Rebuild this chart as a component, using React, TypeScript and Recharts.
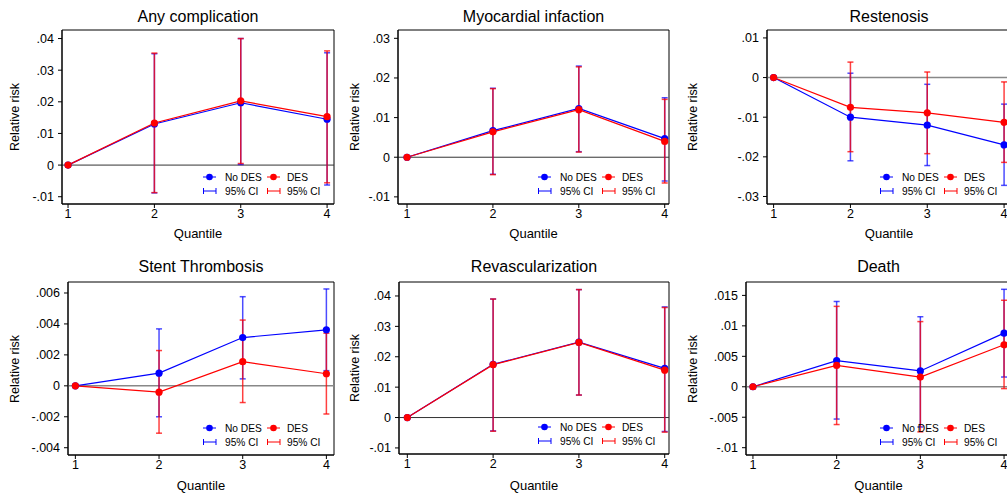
import React from "react";
import {
  LineChart, Line, XAxis, YAxis, ErrorBar, ReferenceLine, ReferenceArea
} from "recharts";

const quantiles = [1, 2, 3, 4];

// Any complication
const anyNoDes = [0, 0.013, 0.0197, 0.0145];
const anyNoDesLo = [null, -0.0088, 0.0002, -0.0063];
const anyNoDesHi = [null, 0.0352, 0.04, 0.0355];
const anyDes = [0, 0.0133, 0.0203, 0.0153];
const anyDesLo = [null, -0.0087, 0.0005, -0.0056];
const anyDesHi = [null, 0.0354, 0.04, 0.0361];

// Myocardial infaction
const miNoDes = [0, 0.0067, 0.0123, 0.0047];
const miNoDesLo = [null, -0.0043, 0.0014, -0.006];
const miNoDesHi = [null, 0.0174, 0.023, 0.015];
const miDes = [0, 0.0064, 0.012, 0.004];
const miDesLo = [null, -0.0044, 0.0013, -0.0065];
const miDesHi = [null, 0.0173, 0.0228, 0.0146];

// Restenosis
const reNoDes = [0, -0.01, -0.012, -0.017];
const reNoDesLo = [null, -0.021, -0.0222, -0.0272];
const reNoDesHi = [null, 0.0011, -0.0017, -0.0067];
const reDes = [0, -0.0075, -0.0089, -0.0113];
const reDesLo = [null, -0.0187, -0.0192, -0.0214];
const reDesHi = [null, 0.0039, 0.0014, -0.0011];

// Stent Thrombosis
const stNoDes = [0, 0.00082, 0.00312, 0.00362];
const stNoDesLo = [null, -0.002, 0.00045, 0.00098];
const stNoDesHi = [null, 0.00368, 0.00576, 0.00626];
const stDes = [0, -0.00041, 0.00156, 0.00078];
const stDesLo = [null, -0.00306, -0.00108, -0.00182];
const stDesHi = [null, 0.00228, 0.00425, 0.0034];

// Revascularization
const rvNoDes = [0, 0.0175, 0.0248, 0.0162];
const rvNoDesLo = [null, -0.0044, 0.0074, -0.0046];
const rvNoDesHi = [null, 0.039, 0.0421, 0.0364];
const rvDes = [0, 0.0174, 0.0247, 0.0156];
const rvDesLo = [null, -0.0045, 0.0074, -0.0048];
const rvDesHi = [null, 0.039, 0.0421, 0.0362];

// Death
const dNoDes = [0, 0.0043, 0.0026, 0.0088];
const dNoDesLo = [null, -0.0053, -0.0066, 0.0016];
const dNoDesHi = [null, 0.014, 0.0115, 0.016];
const dDes = [0, 0.0035, 0.0016, 0.0069];
const dDesLo = [null, -0.0062, -0.0074, -0.0003];
const dDesHi = [null, 0.0132, 0.0107, 0.0142];

const anyTicks = [-0.01, 0, 0.01, 0.02, 0.03, 0.04];
const miTicks = [-0.01, 0, 0.01, 0.02, 0.03];
const reTicks = [-0.03, -0.02, -0.01, 0, 0.01];
const stTicks = [-0.004, -0.002, 0, 0.002, 0.004, 0.006];
const rvTicks = [-0.01, 0, 0.01, 0.02, 0.03, 0.04];
const dTicks = [-0.01, -0.005, 0, 0.005, 0.01, 0.015];

type Num = number | null;

function buildRows(nd: number[], ndLo: Num[], ndHi: Num[], d: number[], dLo: Num[], dHi: Num[]) {
  return quantiles.map((q, i) => ({
    q,
    noDes: nd[i],
    noDesErr: ndLo[i] == null ? null : [nd[i] - (ndLo[i] as number), (ndHi[i] as number) - nd[i]],
    des: d[i],
    desErr: dLo[i] == null ? null : [d[i] - (dLo[i] as number), (dHi[i] as number) - d[i]],
  }));
}

const panels = [
  {
    title: "Any complication",
    rows: buildRows(anyNoDes, anyNoDesLo, anyNoDesHi, anyDes, anyDesLo, anyDesHi),
    yTicks: anyTicks,
    frame: { l: 62, t: 30, r: 334, b: 204 },
    xDom: [0.93, 4.08], yDom: [-0.0123, 0.0427],
    labelX: 15, titleY: 17, qY: 233, zero: "#333", zeroW: 1,
  },
  {
    title: "Myocardial infaction",
    rows: buildRows(miNoDes, miNoDesLo, miNoDesHi, miDes, miDesLo, miDesHi),
    yTicks: miTicks,
    frame: { l: 398, t: 30, r: 669, b: 204 },
    xDom: [0.895, 4.05], yDom: [-0.0118, 0.0321],
    labelX: 355, titleY: 17, qY: 233, zero: "#333", zeroW: 1,
  },
  {
    title: "Restenosis",
    rows: buildRows(reNoDes, reNoDesLo, reNoDesHi, reDes, reDesLo, reDesHi),
    yTicks: reTicks,
    frame: { l: 767, t: 30, r: 1011, b: 204 },
    xDom: [0.914, 4.09], yDom: [-0.0319, 0.012],
    labelX: 693, titleY: 17, qY: 233, zero: "#888", zeroW: 1.5,
  },
  {
    title: "Stent Thrombosis",
    rows: buildRows(stNoDes, stNoDesLo, stNoDesHi, stDes, stDesLo, stDesHi),
    yTicks: stTicks,
    frame: { l: 68, t: 282, r: 334, b: 455 },
    xDom: [0.912, 4.091], yDom: [-0.00447, 0.00671],
    labelX: 15, titleY: 267, qY: 485, zero: "#888", zeroW: 1.5,
  },
  {
    title: "Revascularization",
    rows: buildRows(rvNoDes, rvNoDesLo, rvNoDesHi, rvDes, rvDesLo, rvDesHi),
    yTicks: rvTicks,
    frame: { l: 399, t: 282, r: 669, b: 454 },
    xDom: [0.903, 4.05], yDom: [-0.012, 0.0446],
    labelX: 355, titleY: 267, qY: 485, zero: "#333", zeroW: 1,
  },
  {
    title: "Death",
    rows: buildRows(dNoDes, dNoDesLo, dNoDesHi, dDes, dDesLo, dDesHi),
    yTicks: dTicks,
    frame: { l: 746, t: 282, r: 1011, b: 455 },
    xDom: [0.917, 4.083], yDom: [-0.0112, 0.0172],
    labelX: 693, titleY: 267, qY: 485, zero: "#888", zeroW: 1.5,
  },
];

const BLUE = "#0000ff";
const RED = "#ff0000";
const FONT = "'Liberation Sans', Arial, sans-serif";

function fmt(v: number) {
  const s = Number(v.toFixed(4)).toString();
  return s.replace(/^(-?)0\./, "$1.");
}

function Label({ x, y, size, rotate, children }: any) {
  return (
    <div
      style={{
        position: "absolute", left: x, top: y, fontSize: size, lineHeight: 1,
        whiteSpace: "nowrap", color: "#000",
        transform: `translate(-50%, -50%)${rotate ? " rotate(-90deg)" : ""}`,
      }}
    >
      {children}
    </div>
  );
}

function Legend({ right, bottom }: { right: number; bottom: number }) {
  const txt = { fontSize: 10.2, fill: "#000" };
  return (
    <svg
      width={130} height={30}
      style={{ position: "absolute", left: right - 131, top: bottom - 34 }}
    >
      <line x1={0} y1={7} x2={13} y2={7} stroke={BLUE} />
      <circle cx={6.5} cy={7} r={3.3} fill={BLUE} />
      <text x={22} y={10.7} {...txt}>No DES</text>
      <line x1={64} y1={7} x2={77} y2={7} stroke={RED} />
      <circle cx={70.5} cy={7} r={3.3} fill={RED} />
      <text x={84} y={10.7} {...txt}>DES</text>
      <path d="M0.5 18 V24 M0.5 21 H13 M13 18 V24" stroke={BLUE} fill="none" />
      <text x={22} y={24.7} {...txt}>95% CI</text>
      <path d="M64.5 18 V24 M64.5 21 H77 M77 18 V24" stroke={RED} fill="none" />
      <text x={84} y={24.7} {...txt}>95% CI</text>
    </svg>
  );
}

function Panel({ p }: { p: (typeof panels)[number] }) {
  const { l, t, r, b } = p.frame;
  const w = r - l + 70;
  const h = b - t + 40;
  const axisTick = { fontSize: 12.5, fill: "#000" };
  return (
    <>
      <div style={{ position: "absolute", left: l - 60, top: t - 10 }}>
        <LineChart width={w} height={h} data={p.rows} margin={{ top: 10, right: 10, bottom: 0, left: 0 }}>
          <XAxis
            dataKey="q" type="number" domain={p.xDom} ticks={quantiles} allowDataOverflow
            height={30} tick={axisTick} tickSize={4} tickMargin={1}
            axisLine={{ stroke: "#000" }} tickLine={{ stroke: "#000" }}
          />
          <YAxis
            type="number" domain={p.yDom} ticks={p.yTicks} allowDataOverflow
            width={60} tick={axisTick} tickSize={4} tickMargin={4}
            tickFormatter={fmt} interval={0}
            axisLine={{ stroke: "#000" }} tickLine={{ stroke: "#000" }}
          />
          <ReferenceArea
            x1={p.xDom[0]} x2={p.xDom[1]} y1={p.yDom[0]} y2={p.yDom[1]}
            fill="none" stroke="#000" strokeWidth={1} ifOverflow="visible"
          />
          <ReferenceLine y={0} stroke={p.zero} strokeWidth={p.zeroW} />
          <Line
            dataKey="noDes" type="linear" stroke={BLUE} strokeWidth={1.2}
            dot={{ r: 3.6, fill: BLUE, stroke: BLUE, strokeWidth: 0 }}
            activeDot={false} isAnimationActive={false}
          >
            <ErrorBar dataKey="noDesErr" width={3} stroke="rgba(0,0,255,0.7)" strokeWidth={1.5} isAnimationActive={false} />
          </Line>
          <Line
            dataKey="des" type="linear" stroke={RED} strokeWidth={1.2}
            dot={{ r: 3.6, fill: RED, stroke: RED, strokeWidth: 0 }}
            activeDot={false} isAnimationActive={false}
          >
            <ErrorBar dataKey="desErr" width={3} stroke="rgba(255,0,0,0.75)" strokeWidth={1.5} isAnimationActive={false} />
          </Line>
        </LineChart>
      </div>
      <Label x={(l + r) / 2} y={p.titleY} size={16}>{p.title}</Label>
      <Label x={(l + r) / 2} y={p.qY} size={13}>Quantile</Label>
      <Label x={p.labelX} y={(t + b) / 2} size={12.5} rotate>Relative risk</Label>
      <Legend right={r} bottom={b} />
    </>
  );
}

export default function App() {
  return (
    <div
      style={{
        position: "fixed", left: 0, top: 0, width: 1007, height: 498,
        overflow: "hidden", background: "#fff", fontFamily: FONT,
      }}
    >
      {panels.map((p) => (
        <Panel key={p.title} p={p} />
      ))}
    </div>
  );
}
